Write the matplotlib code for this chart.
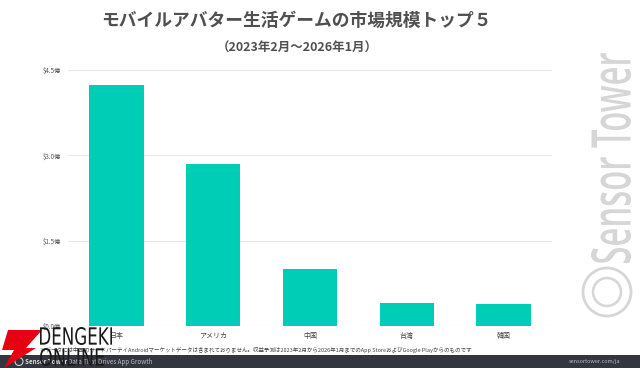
import matplotlib
matplotlib.use("Agg")
import matplotlib.pyplot as plt
from matplotlib.patches import Polygon, Rectangle, PathPatch, Circle
from matplotlib.textpath import TextPath
from matplotlib.font_manager import FontProperties
from matplotlib.transforms import Affine2D, IdentityTransform

plt.rcParams['font.family'] = ['Noto Sans CJK JP', 'DejaVu Sans']

# data (revenue, 億 USD)
countries = ["日本", "アメリカ", "中国", "台湾", "韓国"]
revenue = [4.24, 2.85, 1.01, 0.40, 0.39]
yticks = [0, 1.5, 3.0, 4.5]
ytick_labels = ["$0.0億", "$1.5億", "$3.0億", "$4.5億"]

title = "モバイルアバター生活ゲームの市場規模トップ５"
subtitle = "（2023年2月～2026年1月）"
note = ("※データには中国のサードパーティAndroidマーケットデータは含まれておりません。"
        "収益予測は2023年2月から2026年1月までのApp StoreおよびGoogle Playからのものです")

W, H = 640, 368
fig = plt.figure(figsize=(W / 100, H / 100), dpi=100)
fig.patch.set_facecolor("white")

ax = fig.add_axes([68 / W, 1 - 326 / H, 484 / W, 256 / H])
ax.bar(range(len(countries)), revenue, width=0.56, color="#00cdb5", zorder=2)
ax.set_xlim(-0.5, len(countries) - 0.5)
ax.set_ylim(0, 4.5)
ax.set_yticks(yticks)
ax.set_yticklabels(ytick_labels, fontsize=4.5, color="#555555")
ax.set_xticks(range(len(countries)))
ax.set_xticklabels(countries, fontsize=5, color="#444444")
ax.tick_params(length=0, pad=5)
ax.tick_params(axis="x", pad=4)
ax.grid(axis="y", color="#e9e9e9", linewidth=0.8, zorder=0)
for s in ax.spines.values():
    s.set_visible(False)

fig.text(296 / W, 1 - 21 / H, title, ha="center", va="center",
         fontsize=12.8, fontweight="bold", color="#505050")
fig.text(297 / W, 1 - 48 / H, subtitle, ha="center", va="center",
         fontsize=9, fontweight="bold", color="#505050")
fig.text(40 / W, 1 - 350 / H, note, ha="left", va="center",
         fontsize=4, color="#444444")

# footer band
fig.patches.append(Rectangle((0, 0), 1, 13 / H, transform=fig.transFigure,
                             facecolor="#33363e", edgecolor="none", zorder=1))
fig.patches.append(Circle((19, 6.5), 4, transform=IdentityTransform(),
                          facecolor="none", edgecolor="#cccccc", linewidth=0.8, zorder=3))
fig.text(25 / W, 6.5 / H, "Sensor Tower", ha="left", va="center",
         fontsize=4.5, fontweight="bold", color="#dddddd", zorder=3)
fig.text(68 / W, 6.5 / H, "Data That Drives App Growth", ha="left", va="center",
         fontsize=4.5, color="#bbbbbb", zorder=3)
fig.text(620 / W, 6.5 / H, "sensortower.com/ja", ha="right", va="center",
         fontsize=4, color="#bbbbbb", zorder=3)


def stretched_text(s, x0, y0, width, height, color, rot=0, weight="normal",
                   family="Open Sans", zorder=1):
    tp = TextPath((0, 0), s, size=30, prop=FontProperties(family=family, weight=weight))
    bb = tp.get_extents()
    tr = (Affine2D().translate(-bb.x0, -bb.y0)
          .scale(width / bb.width, height / bb.height)
          .rotate_deg(rot).translate(x0, y0))
    fig.patches.append(PathPatch(tp, transform=tr + IdentityTransform(),
                                 facecolor=color, edgecolor="none", zorder=zorder))


# Sensor Tower watermark (vertical)
stretched_text("Sensor Tower", 631, H - 263, 210, 40, "#d6d6d6", rot=90, weight="semibold")
fig.patches.append(Circle((607, H - 292), 24, transform=IdentityTransform(),
                          facecolor="none", edgecolor="#d6d6d6", linewidth=2, zorder=1))
fig.patches.append(Circle((607, H - 292), 14, transform=IdentityTransform(),
                          facecolor="none", edgecolor="#d6d6d6", linewidth=1.8, zorder=1))

# DENGEKI ONLINE logo
bolt = [(8, H - 330), (42, H - 330), (26, H - 348), (36, H - 348),
        (4, H - 368), (14, H - 350), (2, H - 350)]
fig.patches.append(Polygon(bolt, closed=True, transform=IdentityTransform(),
                           facecolor="#e60012", edgecolor="none", zorder=4))
stretched_text("DENGEKI", 40, H - 345, 72, 18, "#1a1a1a", family="DejaVu Sans", zorder=5)
stretched_text("ONLINE", 40, H - 366, 64, 18, "#1a1a1a", family="DejaVu Sans", zorder=5)

fig.savefig("out.png", dpi=100, facecolor="white")
